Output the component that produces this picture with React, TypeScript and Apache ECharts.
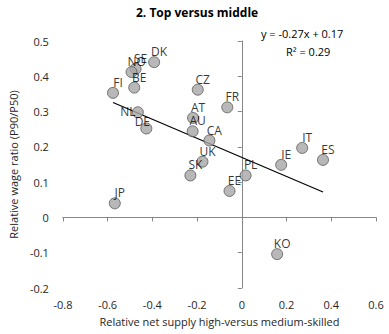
import React, { useEffect, useRef } from "react";
import * as echarts from "echarts";

const countries = ["FI", "DK", "SE", "NO", "BE", "CZ", "FR", "NL", "DE", "AT", "AU", "CA", "UK", "SK", "EE", "PL", "IE", "IT", "ES", "KO", "JP"];
const supplyX = [-0.576, -0.392, -0.475, -0.493, -0.481, -0.197, -0.065, -0.465, -0.427, -0.218, -0.22, -0.145, -0.176, -0.23, -0.055, 0.017, 0.176, 0.27, 0.363, 0.158, -0.568];
const wageY = [0.353, 0.44, 0.421, 0.412, 0.368, 0.362, 0.312, 0.298, 0.252, 0.282, 0.244, 0.218, 0.158, 0.119, 0.075, 0.119, 0.149, 0.197, 0.163, -0.104, 0.04];
const trendSlope = -0.27;
const trendIntercept = 0.17;
const rSquared = 0.29;

const FONT = "'Open Sans', 'Liberation Sans', sans-serif";

export default function App() {
  const ref = useRef<HTMLDivElement>(null);
  useEffect(() => {
    if (!ref.current) return;
    document.body.style.margin = "0";
    const chart = echarts.init(ref.current, null, { renderer: "svg" });
    const labelOffsets: Record<string, number[]> = { NL: [-10, -1], DE: [-4, -7] };
    const points = countries.map((c, i) => ({
      name: c,
      value: [supplyX[i], wageY[i]],
      label: { offset: labelOffsets[c] || [5, -10.5] },
    }));
    const xMin = Math.min(...supplyX);
    const xMax = Math.max(...supplyX);
    const trend = [
      [xMin, trendSlope * xMin + trendIntercept],
      [xMax, trendSlope * xMax + trendIntercept],
    ];
    const axisColor = "#868686";
    const labelStyle = { color: "#262626", fontSize: 11, fontFamily: FONT };
    const xCommon = { type: "value", min: -0.8, max: 0.6, interval: 0.2, splitLine: { show: false } };
    const yCommon = { type: "value", min: -0.2, max: 0.5, interval: 0.1, splitLine: { show: false } };
    chart.setOption({
      animation: false,
      title: {
        text: "2. Top versus middle",
        left: 131,
        top: 1,
        textStyle: { fontSize: 12, fontWeight: "bold", color: "#000", fontFamily: FONT },
      },
      grid: { left: 62, right: 13, top: 41, bottom: 46 },
      xAxis: [
        {
          ...xCommon,
          position: "bottom",
          axisLine: { show: false, onZero: false },
          axisTick: { show: false },
          axisLabel: { ...labelStyle, margin: 11, formatter: (v: number) => String(Math.round(v * 10) / 10) },
          name: "Relative net supply high-versus medium-skilled",
          nameLocation: "middle",
          nameGap: 28,
          nameTextStyle: { ...labelStyle, fontSize: 11 },
        },
        {
          ...xCommon,
          position: "bottom",
          axisLine: { show: true, onZero: true, lineStyle: { color: axisColor } },
          axisTick: { show: true, length: 4, lineStyle: { color: axisColor } },
          axisLabel: { show: false },
        },
      ],
      yAxis: [
        {
          ...yCommon,
          position: "left",
          axisLine: { show: false, onZero: false },
          axisTick: { show: false },
          axisLabel: { ...labelStyle, margin: 14, formatter: (v: number) => String(Math.round(v * 10) / 10) },
          name: "Relative wage ratio (P90/P50)",
          nameLocation: "middle",
          nameGap: 43,
          nameTextStyle: { ...labelStyle, fontSize: 11 },
        },
        {
          ...yCommon,
          position: "left",
          axisLine: { show: true, onZero: true, onZeroAxisIndex: 1, lineStyle: { color: axisColor } },
          axisTick: { show: true, length: 4, lineStyle: { color: axisColor } },
          axisLabel: { show: false },
        },
      ],
      graphic: [
        {
          type: "text",
          left: 261,
          top: 28,
          style: {
            text: `y = ${trendSlope}x + ${trendIntercept}`,
            fontSize: 11,
            fontFamily: FONT,
            fill: "#000",
          },
        },
        {
          type: "text",
          left: 286,
          top: 46,
          style: { text: `R² = ${rSquared}`, fontSize: 11, fontFamily: FONT, fill: "#000" },
        },
      ],
      series: [
        {
          type: "line",
          xAxisIndex: 0,
          yAxisIndex: 0,
          data: trend,
          showSymbol: false,
          symbol: "none",
          lineStyle: { color: "#000", width: 1.2 },
          z: 1,
        },
        {
          type: "scatter",
          xAxisIndex: 0,
          yAxisIndex: 0,
          data: points,
          symbolSize: 11,
          itemStyle: { color: "#a6a6a6", borderColor: "#595959", borderWidth: 1 },
          label: {
            show: true,
            position: "inside",
            formatter: (p: any) => p.name,
            color: "#000",
            fontSize: 12,
            fontFamily: FONT,
          },
          z: 3,
        },
      ],
    });
    return () => chart.dispose();
  }, []);
  return <div ref={ref} style={{ width: 389, height: 334 }} />;
}
